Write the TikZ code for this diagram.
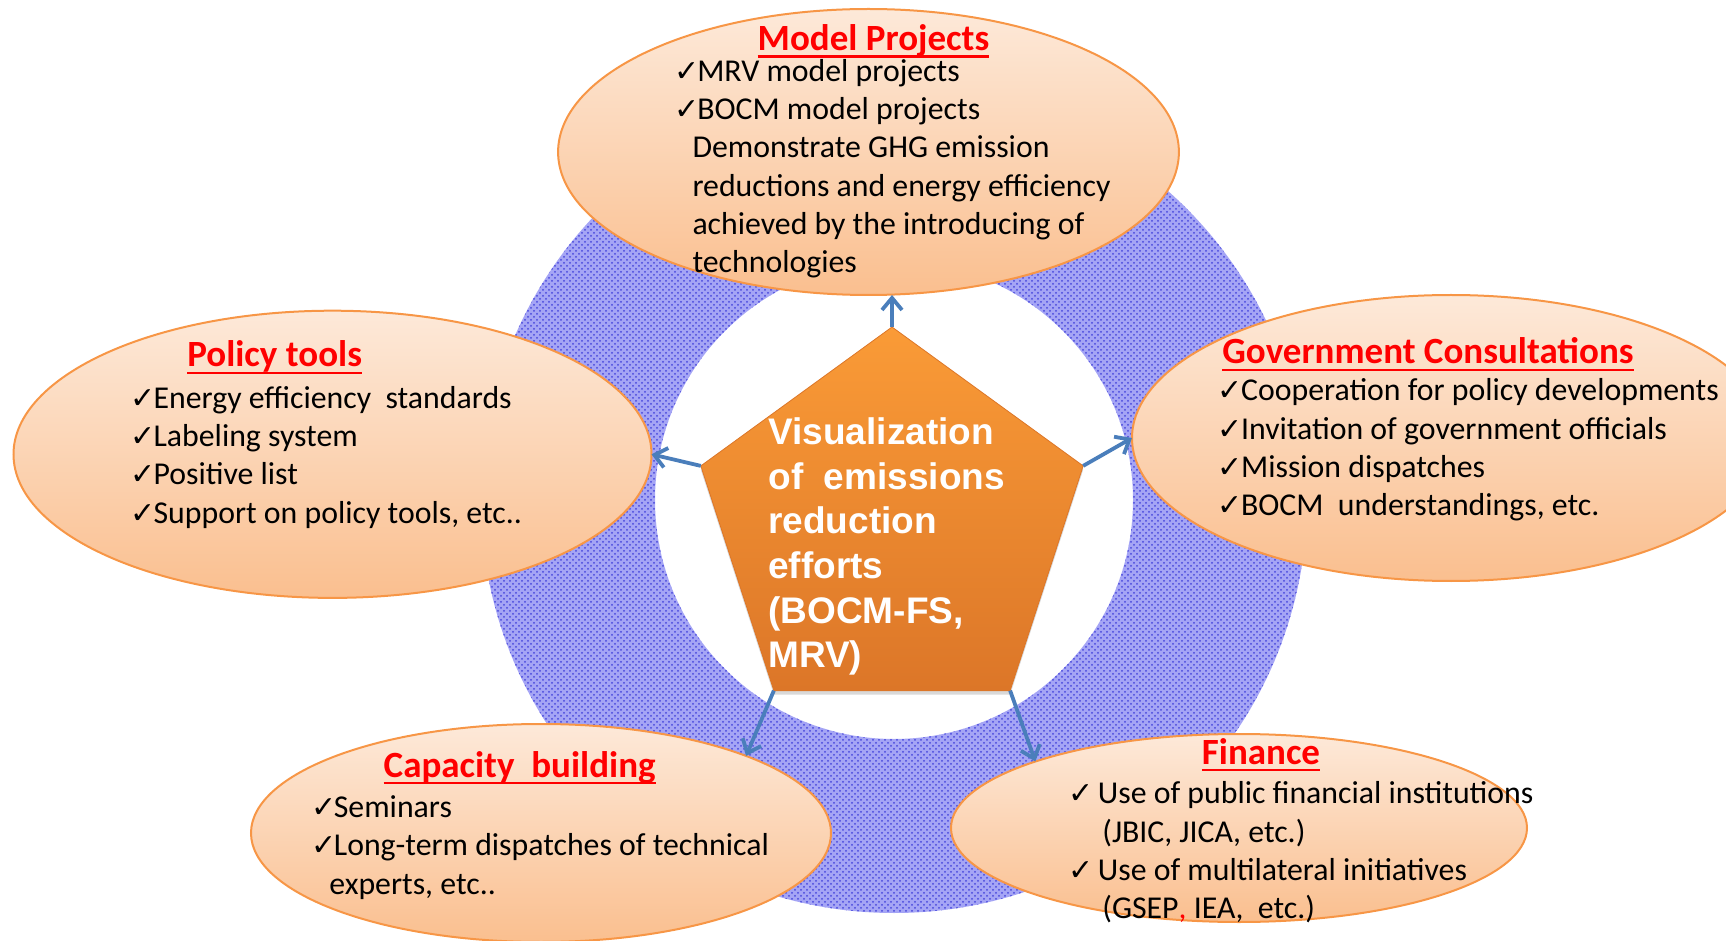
\documentclass[tikz,border=0pt]{standalone}
\usepackage{fontspec}
\setmainfont{Carlito}
\newfontfamily\headfont{Liberation Sans}
\newfontfamily\tickfont{DejaVu Sans}
\usetikzlibrary{shapes.geometric,arrows.meta,patterns,shadows}
\definecolor{peachtop}{RGB}{253,233,217}
\definecolor{peachbot}{RGB}{250,191,143}
\definecolor{peachline}{RGB}{247,150,70}
\definecolor{pentop}{RGB}{250,155,55}
\definecolor{penbot}{RGB}{220,118,40}
\definecolor{arrowblue}{RGB}{74,126,187}
\definecolor{ringblue}{RGB}{165,165,245}
\definecolor{dotblue}{RGB}{70,70,220}
\newcommand{\ttlline}[1]{\setbox0\hbox{#1}\rlap{\raisebox{-3.6pt}{\rule{\wd0}{1.1pt}}}\box0}
\newcommand{\ck}[1][11.6pt]{\makebox[#1][l]{\tickfont\fontsize{15pt}{15pt}\selectfont ✓}}
\tikzset{
  bubble/.style={ellipse, draw=peachline, line width=1pt, top color=peachtop,
    bottom color=peachbot, inner sep=0pt, outer sep=0pt},
  bubtitle/.style={font=\fontsize{18.5pt}{22pt}\selectfont\bfseries, text=red,
    inner sep=0pt, anchor=base},
  bublist/.style={font=\fontsize{15.9pt}{19.15pt}\selectfont, align=left,
    anchor=west, inner sep=0pt},
  penta/.style={regular polygon, regular polygon sides=5, draw=penbot,
    line width=0.4pt, top color=pentop, bottom color=penbot, inner sep=0pt,
    outer sep=0pt, drop shadow={opacity=0.3, shadow xshift=0pt, shadow yshift=-2pt}},
  vistext/.style={font=\headfont\bfseries\fontsize{18.5pt}{22.35pt}\selectfont,
    text=white, align=left, anchor=west, inner sep=0pt},
  donut/.style={preaction={fill=ringblue, even odd rule}, pattern=crosshatch dots,
    pattern color=dotblue, even odd rule},
  link/.style={draw=arrowblue, line width=1.9pt, -{Straight Barb[length=6pt,width=10pt]}}
}
\begin{document}
\begin{tikzpicture}[x=0.5pt, y=-0.5pt]

  \path[use as bounding box, clip] (0,0) rectangle (1726,941);

  \coordinate (ctr) at (894,500);
  \path[donut] (ctr) circle[radius=413] (ctr) circle[radius=239];

  \node[penta, minimum size=201pt] (pent) at (892,528) {};
  \node[vistext] (vis) at (768,546.5) {Visualization\\of\ \ emissions\\reduction\\efforts\\(BOCM-FS,\\MRV)};

  \begin{scope}[every node/.style={bubble}]
    \node[minimum width=310.4pt, minimum height=143pt]   (mp) at (868.5,152) {};
    \node[minimum width=319pt, minimum height=143.6pt]   (pt) at (332.5,454.3) {};
    \node[minimum width=319pt, minimum height=143pt]     (gc) at (1451,438) {};
    \node[minimum width=290pt, minimum height=109pt]     (cb) at (541,833) {};
    \node[minimum width=288pt, minimum height=94pt]      (fi) at (1239,828) {};
  \end{scope}

  \node[bubtitle] (mptitle) at (873.5,50.5) {\ttlline{Model Projects}};
  \node[bubtitle] (pttitle) at (274.6,366.5) {\ttlline{Policy tools}};
  \node[bubtitle] (gctitle) at (1428,364) {\ttlline{Government Consultations}};
  \node[bubtitle] (cbtitle) at (519.6,777) {\ttlline{Capacity\ \ building}};
  \node[bubtitle] (fititle) at (1261,764) {\ttlline{Finance}};

  \node[bublist] (mplist) at (673.7,168.6) {\ck MRV model projects\\\ck BOCM model projects\\
    \hspace*{9.2pt}Demonstrate GHG emission\\\hspace*{9.2pt}reductions and energy efficiency\\
    \hspace*{9.2pt}achieved by the introducing of\\\hspace*{9.2pt}technologies};
  \node[bublist] (ptlist) at (130,457.3) {\ck Energy efficiency\ \ standards\\\ck Labeling system\\
    \ck Positive list\\\ck Support on policy tools, etc..};
  \node[bublist] (gclist) at (1217.5,450) {\ck Cooperation for policy developments\\
    \ck Invitation of government officials\\\ck Mission dispatches\\\ck BOCM\ \ understandings, etc.};
  \node[bublist] (cblist) at (311.5,847.5) {\ck[11pt]Seminars\\\ck[11pt]Long-term dispatches of technical\\
    \hspace*{8.75pt}experts, etc..};
  \node[bublist] (filist) at (1068,852.5) {\ck[14.75pt]Use of public financial institutions\\
    \hspace*{17pt}(JBIC, JICA, etc.)\\\ck[14.75pt]Use of multilateral initiatives\\
    \hspace*{17pt}(GSEP{\color{red},} IEA,\ \ etc.)};

  \draw[link] (pent.corner 1) -- (pent.corner 1 |- mp.south);
  \draw[link] (pent.corner 2) -- (pt.east);
  \draw[link] (pent.corner 5) -- (gc.west);
  \draw[link] (pent.corner 3) -- (cb.north east);
  \draw[link] (pent.corner 4) -- (fi.north west);

\end{tikzpicture}
\end{document}
